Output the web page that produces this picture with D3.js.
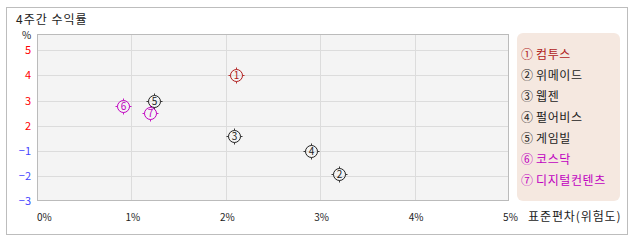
<!DOCTYPE html>
<html><head><meta charset="utf-8">
<script src="https://cdn.jsdelivr.net/npm/d3@7"></script>
<style>
html,body{margin:0;padding:0;background:#fff;}
svg{display:block;}
text{font-family:"Noto Sans CJK KR","DejaVu Sans",sans-serif;}
</style></head>
<body>
<script>
// ---- data ----
const names = ["컴투스","위메이드","웹젠","펄어비스","게임빌","코스닥","디지털컨텐츠"];
const marks = ["①","②","③","④","⑤","⑥","⑦"];
const stdDev = [2.11, 3.20, 2.09, 2.90, 1.24, 0.91, 1.20];   // x: 표준편차 (%)
const returns = [4.0, -1.92, 0.75, -1.02, 3.0, 2.78, 2.49];  // y: 4주간 수익률 (%)
const colors = ["#b01c1c","#222222","#222222","#222222","#222222","#c000c0","#c000c0"];
const xTicks = [0,1,2,3,4,5];
const yTicks = [-3,-2,-1,2,3,4,5];
const yTop = 5.65;

const W = 638, H = 242;
const plot = {l:37, r:509, t:34, b:201};

const svg = d3.select("body").append("svg").attr("width",W).attr("height",H);

// outer frame
svg.append("rect").attr("x",6.5).attr("y",7.5).attr("width",621).attr("height",227)
  .attr("fill","#fff").attr("stroke","#bdbdbd");

svg.append("text").attr("x",16).attr("y",24).attr("font-size",12).attr("fill","#222")
  .attr("letter-spacing",1).text("4주간 수익률");

const x = d3.scaleLinear().domain([0,5]).range([plot.l, plot.r]);
// piecewise y: equal spacing between the labelled ticks
const step = (plot.b - plot.t) / (yTicks.length - 1 + (yTop - yTicks[yTicks.length-1]));
const yDomain = yTicks.concat([yTop]);
const yRange = yDomain.map((d,i)=> i < yTicks.length ? plot.b - i*step : plot.t);
const y = d3.scaleLinear().domain(yDomain).range(yRange);

// plot background
svg.append("rect").attr("x",plot.l).attr("y",plot.t).attr("width",plot.r-plot.l).attr("height",plot.b-plot.t)
  .attr("fill","#f4f4f4");

// grid
const g = svg.append("g");
g.selectAll(".vg").data(xTicks.slice(1,-1)).join("line")
  .attr("x1",d=>Math.round(x(d))+0.5).attr("x2",d=>Math.round(x(d))+0.5)
  .attr("y1",plot.t).attr("y2",plot.b).attr("stroke","#dcdcdc");
g.selectAll(".hg").data(yTicks.slice(1)).join("line")
  .attr("y1",d=>Math.round(y(d))+0.5).attr("y2",d=>Math.round(y(d))+0.5)
  .attr("x1",plot.l).attr("x2",plot.r).attr("stroke","#dcdcdc");

// plot border
svg.append("rect").attr("x",plot.l+0.5).attr("y",plot.t+0.5).attr("width",plot.r-plot.l-1).attr("height",plot.b-plot.t-1)
  .attr("fill","none").attr("stroke","#bbbbbb");

// y tick labels
svg.append("g").selectAll("text").data(yTicks).join("text")
  .attr("x",31).attr("y",d=>y(d)).attr("dy","0.36em").attr("text-anchor","end")
  .attr("font-size",11).attr("font-family","DejaVu Sans, sans-serif")
  .attr("fill",d=>d>0?"#ff0000":"#4444ff").text(d=>d>0?d:"\u2212"+Math.abs(d));
svg.append("text").attr("x",22).attr("y",35).attr("dy","0.36em").attr("font-size",10)
  .attr("font-family","DejaVu Sans, sans-serif").attr("fill","#222").text("%");

// x tick labels
svg.append("g").selectAll("text").data(xTicks).join("text")
  .attr("x",d=>d===0?x(d):x(d)+1.5).attr("y",217).attr("dy","0.36em")
  .attr("text-anchor",d=>d===0?"start":"middle")
  .attr("font-size",10).attr("font-family","DejaVu Sans, sans-serif").attr("fill","#222")
  .text(d=>d+"%");
svg.append("text").attr("x",528).attr("y",217).attr("dy","0.36em").attr("font-size",12)
  .attr("fill","#222").attr("letter-spacing",0.9).text("표준편차(위험도)");

// markers
const data = names.map((n,i)=>({n, m:marks[i], k:i+1, x:stdDev[i], y:returns[i], c:colors[i]}));
const mk = svg.append("g").selectAll("g").data(data).join("g")
  .attr("transform",d=>`translate(${Math.round(x(d.x))+0.5},${Math.round(y(d.y))+0.5})`);
mk.append("circle").attr("r",6).attr("fill","none").attr("stroke",d=>d.c).attr("stroke-width",1);
[[0,-6,0,-8],[0,6,0,8],[-6,0,-8,0],[6,0,8,0]].forEach(s=>{
  mk.append("line").attr("x1",s[0]).attr("y1",s[1]).attr("x2",s[2]).attr("y2",s[3])
    .attr("stroke",d=>d.c).attr("stroke-width",0.9);
});
mk.append("text").attr("text-anchor","middle").attr("dy","0.36em").attr("font-size",10)
  .attr("font-family","DejaVu Sans, sans-serif").attr("fill",d=>d.c).text(d=>d.k);

// legend
svg.append("rect").attr("x",517).attr("y",33).attr("width",103).attr("height",168).attr("rx",6)
  .attr("fill","#f5e8e0");
const lg = svg.append("g").selectAll("g").data(data).join("g")
  .attr("transform",(d,i)=>`translate(521,${55+i*21})`);
lg.append("text").attr("dy","0.36em").attr("font-size",12).attr("fill",d=>d.c).text(d=>d.m);
lg.append("text").attr("x",15).attr("dy","0.36em").attr("font-size",12).attr("fill",d=>d.c)
  .attr("letter-spacing",0.6).text(d=>d.n);
</script>
</body></html>
